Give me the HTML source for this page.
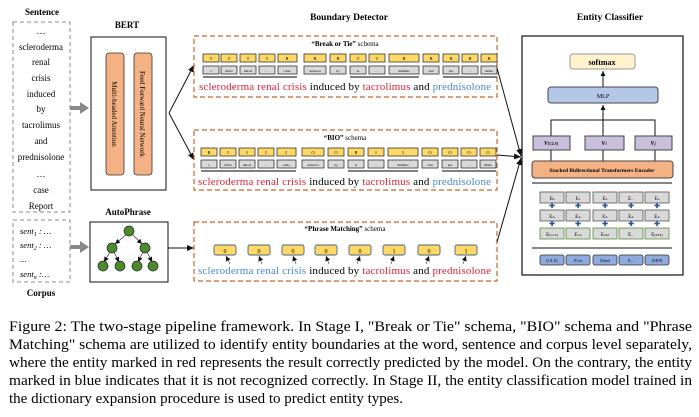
<!DOCTYPE html>
<html><head><meta charset="utf-8"><style>
body{margin:0;background:#fff;width:699px;height:412px;overflow:hidden}
svg text{font-family:"Liberation Serif",serif}
</style></head><body>
<svg width="699" height="412" viewBox="0 0 699 412" xmlns="http://www.w3.org/2000/svg">
<defs>
<marker id="ah" markerWidth="8" markerHeight="8" refX="7" refY="4" orient="auto" markerUnits="userSpaceOnUse"><path d="M0,1 L7,4 L0,7 z" fill="#111"/></marker>
<marker id="as" markerWidth="6" markerHeight="6" refX="5" refY="3" orient="auto" markerUnits="userSpaceOnUse"><path d="M0,0.5 L5,3 L0,5.5 z" fill="#111"/></marker>
</defs>
<text x="42" y="15" font-size="9" font-weight="bold" text-anchor="middle">Sentence</text>
<rect x="13" y="22" width="57" height="190" fill="none" stroke="#888" stroke-dasharray="4,3"/>
<g font-size="9" text-anchor="middle">
<text x="41" y="34">…</text><text x="41" y="50">scleroderma</text><text x="41" y="65">renal</text><text x="41" y="81">crisis</text><text x="41" y="97">induced</text><text x="41" y="112">by</text><text x="41" y="128">tacrolimus</text><text x="41" y="144">and</text><text x="41" y="160">prednisolone</text><text x="41" y="177">…</text><text x="41" y="193">case</text><text x="41" y="209">Report</text>
</g>
<rect x="13" y="220" width="57" height="62" fill="none" stroke="#888" stroke-dasharray="4,3"/>
<g font-size="8.5" font-style="italic"><text x="20" y="234">sent<tspan font-size="6" dy="2">1</tspan><tspan dy="-2"> : …</tspan></text><text x="20" y="248">sent<tspan font-size="6" dy="2">2</tspan><tspan dy="-2"> : …</tspan></text><text x="20" y="262" font-style="normal">...</text><text x="20" y="277">sent<tspan font-size="6" dy="2">n</tspan><tspan dy="-2"> :…</tspan></text></g>
<text x="41" y="296" font-size="9" font-weight="bold" text-anchor="middle">Corpus</text>
<path d="M70,106 h10 v-4 l9,6 l-9,6 v-4 h-10z" fill="#888"/>
<path d="M70,245 h10 v-4 l9,6 l-9,6 v-4 h-10z" fill="#888"/>
<text x="127" y="28" font-size="9" font-weight="bold" text-anchor="middle">BERT</text>
<rect x="91" y="37" width="75" height="153" fill="#fff" stroke="#111" stroke-width="1"/>
<rect x="106" y="53" width="18" height="122" rx="3" fill="#f4b183" stroke="#333" stroke-width="0.8"/>
<rect x="134" y="53" width="18" height="122" rx="3" fill="#f4b183" stroke="#333" stroke-width="0.8"/>
<text transform="translate(112,114) rotate(90)" font-size="7" text-anchor="middle">Multi-headed Attention</text>
<text transform="translate(140,114) rotate(90)" font-size="7" text-anchor="middle">Feed Forward Neural Network</text>
<line x1="169" y1="113" x2="194" y2="65" stroke="#111" marker-end="url(#ah)"/>
<line x1="169" y1="113" x2="194" y2="160" stroke="#111" marker-end="url(#ah)"/>
<text x="128" y="215" font-size="9" font-weight="bold" text-anchor="middle">AutoPhrase</text>
<rect x="90" y="222" width="78" height="60" fill="#fff" stroke="#111"/>
<g stroke="#333" stroke-width="0.7" marker-end="url(#as)">
<line x1="127" y1="234" x2="115" y2="244"/><line x1="132" y1="234" x2="142" y2="244"/>
<line x1="110" y1="252" x2="104" y2="262"/><line x1="114" y1="252" x2="119" y2="262"/>
<line x1="143" y1="252" x2="138" y2="262"/><line x1="147" y1="252" x2="152" y2="262"/>
</g>
<g fill="#4f8a2a" stroke="#223" stroke-width="0.7">
<circle cx="129" cy="231" r="5"/><circle cx="112" cy="248" r="5"/><circle cx="145" cy="248" r="5"/>
<circle cx="103" cy="266" r="5"/><circle cx="120" cy="266" r="5"/><circle cx="137" cy="266" r="5"/><circle cx="153" cy="266" r="5"/>
</g>
<line x1="168" y1="248" x2="194" y2="248" stroke="#111" marker-end="url(#ah)"/>
<text x="349" y="20" font-size="9.5" font-weight="bold" text-anchor="middle">Boundary Detector</text>
<g fill="none" stroke="#c5662a" stroke-width="1.2" stroke-dasharray="5,3">
<rect x="194" y="36" width="303" height="61"/><rect x="194" y="130" width="303" height="60"/><rect x="194" y="222" width="303" height="59"/>
</g>
<text x="345" y="46" font-size="7" text-anchor="middle"><tspan font-weight="bold">“Break or Tie”</tspan> schema</text>
<text x="345" y="140" font-size="7" text-anchor="middle"><tspan font-weight="bold">“BIO”</tspan> schema</text>
<text x="345" y="231" font-size="7" text-anchor="middle"><tspan font-weight="bold">“Phrase Matching”</tspan> schema</text>
<g stroke="#333" stroke-width="0.8">
<g fill="#ffd966">
<rect x="203" y="54" width="16" height="8"/><rect x="221" y="54" width="16" height="8"/><rect x="240" y="54" width="16" height="8"/><rect x="259" y="54" width="16" height="8"/><rect x="278" y="54" width="19" height="8"/><rect x="304" y="54" width="22" height="8"/><rect x="330" y="54" width="16" height="8"/><rect x="350" y="54" width="16" height="8"/><rect x="369" y="54" width="16" height="8"/><rect x="389" y="54" width="30" height="8"/><rect x="423" y="54" width="16" height="8"/><rect x="443" y="54" width="16" height="8"/><rect x="462" y="54" width="16" height="8"/><rect x="481" y="54" width="16" height="8"/>
<rect x="201" y="148" width="16" height="8"/><rect x="220" y="148" width="16" height="8"/><rect x="239" y="148" width="16" height="8"/><rect x="258" y="148" width="16" height="8"/><rect x="277" y="148" width="19" height="8"/><rect x="302" y="148" width="22" height="8"/><rect x="328" y="148" width="16" height="8"/><rect x="348" y="148" width="16" height="8"/><rect x="368" y="148" width="16" height="8"/><rect x="388" y="148" width="30" height="8"/><rect x="422" y="148" width="16" height="8"/><rect x="442" y="148" width="16" height="8"/><rect x="461" y="148" width="16" height="8"/><rect x="480" y="148" width="16" height="8"/>
</g>
<g fill="#d9d9d9">
<rect x="203" y="66" width="16" height="8"/><rect x="221" y="66" width="16" height="8"/><rect x="240" y="66" width="16" height="8"/><rect x="259" y="66" width="16" height="8"/><rect x="278" y="66" width="19" height="8"/><rect x="304" y="66" width="22" height="8"/><rect x="330" y="66" width="16" height="8"/><rect x="350" y="66" width="16" height="8"/><rect x="369" y="66" width="16" height="8"/><rect x="389" y="66" width="30" height="8"/><rect x="423" y="66" width="16" height="8"/><rect x="443" y="66" width="16" height="8"/><rect x="462" y="66" width="16" height="8"/><rect x="481" y="66" width="16" height="8"/>
<rect x="201" y="160" width="16" height="8"/><rect x="220" y="160" width="16" height="8"/><rect x="239" y="160" width="16" height="8"/><rect x="258" y="160" width="16" height="8"/><rect x="277" y="160" width="19" height="8"/><rect x="302" y="160" width="22" height="8"/><rect x="328" y="160" width="16" height="8"/><rect x="348" y="160" width="16" height="8"/><rect x="368" y="160" width="16" height="8"/><rect x="388" y="160" width="30" height="8"/><rect x="422" y="160" width="16" height="8"/><rect x="442" y="160" width="16" height="8"/><rect x="461" y="160" width="16" height="8"/><rect x="480" y="160" width="16" height="8"/>
</g>
</g>
<g font-size="4.5" text-anchor="middle">
<text x="211" y="60">T</text><text x="229" y="60">T</text><text x="248" y="60">T</text><text x="267" y="60">T</text><text x="287" y="60">B</text><text x="315" y="60">B</text><text x="338" y="60">B</text><text x="358" y="60">T</text><text x="377" y="60">T</text><text x="404" y="60">B</text><text x="431" y="60">B</text><text x="451" y="60">B</text><text x="470" y="60">B</text><text x="489" y="60">B</text>
<text x="209" y="154">B</text><text x="228" y="154">I</text><text x="247" y="154">I</text><text x="266" y="154">I</text><text x="286" y="154">I</text><text x="313" y="154">O</text><text x="336" y="154">O</text><text x="356" y="154">B</text><text x="376" y="154">I</text><text x="403" y="154">I</text><text x="430" y="154">O</text><text x="450" y="154">O</text><text x="469" y="154">O</text><text x="488" y="154">O</text>
</g>
<g font-size="3.5" text-anchor="middle">
<text x="211" y="72">s</text><text x="229" y="72">##cle</text><text x="248" y="72">##rod</text><text x="267" y="72">…</text><text x="287" y="72">crisis</text><text x="315" y="72">induced</text><text x="338" y="72">by</text><text x="358" y="72">ta</text><text x="377" y="72">…</text><text x="404" y="72">##limus</text><text x="431" y="72">and</text><text x="451" y="72">pre</text><text x="470" y="72">…</text><text x="489" y="72">##lne</text>
<text x="209" y="166">s</text><text x="228" y="166">##cle</text><text x="247" y="166">##rod</text><text x="266" y="166">…</text><text x="286" y="166">crisis</text><text x="313" y="166">induced</text><text x="336" y="166">by</text><text x="356" y="166">ta</text><text x="376" y="166">…</text><text x="403" y="166">##limus</text><text x="430" y="166">and</text><text x="450" y="166">pre</text><text x="469" y="166">…</text><text x="488" y="166">##lne</text>
</g>
<g stroke="#333" stroke-width="1.2"><line x1="203" y1="77" x2="297" y2="77"/><line x1="350" y1="77" x2="419" y2="77"/><line x1="443" y1="77" x2="497" y2="77"/>
<line x1="201" y1="171" x2="296" y2="171"/><line x1="348" y1="171" x2="418" y2="171"/><line x1="442" y1="171" x2="496" y2="171"/></g>
<g font-size="11">
<text x="199" y="90" textLength="292"><tspan fill="#d6253a">scleroderma renal crisis</tspan> induced by <tspan fill="#d6253a">tacrolimus</tspan> and <tspan fill="#4a86c8">prednisolone</tspan></text>
<text x="198" y="185" textLength="293"><tspan fill="#d6253a">scleroderma renal crisis</tspan> induced by <tspan fill="#d6253a">tacrolimus</tspan> and <tspan fill="#4a86c8">prednisolone</tspan></text>
<text x="198" y="274" textLength="293"><tspan fill="#4a86c8">scleroderma renal crisis</tspan> induced by <tspan fill="#d6253a">tacrolimus</tspan> and <tspan fill="#d6253a">prednisolone</tspan></text>
</g>
<g fill="#ffd966" stroke="#4a5f80" stroke-width="0.9">
<rect x="214" y="245" width="22" height="10" rx="2"/><rect x="248" y="245" width="22" height="10" rx="2"/><rect x="282" y="245" width="22" height="10" rx="2"/><rect x="315" y="245" width="22" height="10" rx="2"/><rect x="349" y="245" width="22" height="10" rx="2"/><rect x="383" y="245" width="22" height="10" rx="2"/><rect x="418" y="245" width="22" height="10" rx="2"/><rect x="455" y="245" width="22" height="10" rx="2"/>
</g>
<g font-size="6" text-anchor="middle"><text x="225" y="253">0</text><text x="259" y="253">0</text><text x="293" y="253">0</text><text x="326" y="253">0</text><text x="360" y="253">0</text><text x="394" y="253">1</text><text x="429" y="253">0</text><text x="466" y="253">1</text></g>
<g stroke="#333" stroke-width="0.6" marker-end="url(#as)">
<line x1="230" y1="264" x2="226" y2="256"/><line x1="262" y1="264" x2="259" y2="256"/><line x1="296" y1="264" x2="293" y2="256"/><line x1="329" y1="264" x2="326" y2="256"/><line x1="357" y1="264" x2="360" y2="256"/><line x1="391" y1="264" x2="394" y2="256"/><line x1="426" y1="264" x2="429" y2="256"/><line x1="463" y1="264" x2="466" y2="256"/>
</g>
<g stroke="#111" stroke-width="1"><line x1="497" y1="68" x2="521" y2="156" marker-end="url(#ah)"/><line x1="497" y1="155" x2="521" y2="157" marker-end="url(#ah)"/><line x1="497" y1="242" x2="521" y2="158" marker-end="url(#ah)"/></g>
<text x="610" y="20" font-size="9.5" font-weight="bold" text-anchor="middle">Entity Classifier</text>
<rect x="522" y="36" width="161" height="239" fill="#fff" stroke="#111" stroke-width="1.2"/>
<rect x="570" y="54" width="65" height="15" rx="3" fill="#fff2cc" stroke="#999"/>
<text x="602" y="65" font-size="8" font-weight="bold" text-anchor="middle">softmax</text>
<rect x="548" y="87" width="110" height="16" rx="3" fill="#b4c7e7" stroke="#445"/>
<text x="603" y="98" font-size="6" text-anchor="middle">MLP</text>
<g stroke="#111" fill="none"><line x1="603" y1="87" x2="603" y2="71" marker-end="url(#as)"/><line x1="603" y1="120" x2="603" y2="105" marker-end="url(#as)"/>
<polyline points="551,136 551,120 655,120 655,136"/><line x1="603" y1="120" x2="603" y2="136"/>
<line x1="551" y1="150" x2="551" y2="161"/><line x1="603" y1="150" x2="603" y2="161"/><line x1="655" y1="150" x2="655" y2="161"/></g>
<g fill="#c9bedb" stroke="#444"><rect x="533" y="136" width="37" height="14"/><rect x="585" y="136" width="39" height="14"/><rect x="635" y="136" width="37" height="14"/></g>
<g font-size="6" font-style="italic" font-weight="bold" text-anchor="middle"><text x="551" y="145">V<tspan font-size="4">[CLS]</tspan></text><text x="604" y="145">V<tspan font-size="4">i</tspan></text><text x="653" y="145">V<tspan font-size="4">j</tspan></text></g>
<rect x="532" y="161" width="141" height="17" rx="3" fill="#f4b183" stroke="#444"/>
<text x="602" y="172" font-size="5.5" font-weight="bold" text-anchor="middle">Stacked Bidirectional Transformers Encoder</text>
<line x1="532" y1="183" x2="672" y2="183" stroke="#111"/>
<line x1="532" y1="248" x2="672" y2="248" stroke="#111"/>
<g stroke="#555" stroke-width="0.8" fill="#d9d9d9">
<rect x="540" y="192" width="24" height="11"/><rect x="566" y="192" width="24" height="11"/><rect x="593" y="192" width="24" height="11"/><rect x="619" y="192" width="24" height="11"/><rect x="645" y="192" width="24" height="11"/>
<rect x="540" y="210" width="24" height="11"/><rect x="566" y="210" width="24" height="11"/><rect x="593" y="210" width="24" height="11"/><rect x="619" y="210" width="24" height="11"/><rect x="645" y="210" width="24" height="11"/>
<g stroke="#5a8a3a"><rect x="540" y="228" width="24" height="11"/><rect x="566" y="228" width="24" height="11"/><rect x="593" y="228" width="24" height="11"/><rect x="619" y="228" width="24" height="11"/><rect x="645" y="228" width="24" height="11"/></g>
</g>
<g fill="#2f5597" font-size="7" text-anchor="middle" font-weight="bold"><text x="552" y="208">✚</text><text x="578" y="208">✚</text><text x="605" y="208">✚</text><text x="631" y="208">✚</text><text x="657" y="208">✚</text>
<text x="552" y="226">✚</text><text x="578" y="226">✚</text><text x="605" y="226">✚</text><text x="631" y="226">✚</text><text x="657" y="226">✚</text></g>
<g font-size="5" text-anchor="middle"><text x="552" y="200">E<tspan font-size="3.5">0</tspan></text><text x="578" y="200">E<tspan font-size="3.5">1</tspan></text><text x="605" y="200">E<tspan font-size="3.5">2</tspan></text><text x="631" y="200">E<tspan font-size="3.5">...</tspan></text><text x="657" y="200">E<tspan font-size="3.5">n</tspan></text>
<text x="552" y="218">E<tspan font-size="3.5">A</tspan></text><text x="578" y="218">E<tspan font-size="3.5">A</tspan></text><text x="605" y="218">E<tspan font-size="3.5">A</tspan></text><text x="631" y="218">E<tspan font-size="3.5">A</tspan></text><text x="657" y="218">E<tspan font-size="3.5">A</tspan></text>
<text x="552" y="236">E<tspan font-size="3.5">[CLS]</tspan></text><text x="578" y="236">E<tspan font-size="3.5">1st</tspan></text><text x="605" y="236">E<tspan font-size="3.5">2nd</tspan></text><text x="631" y="236">E<tspan font-size="3.5">...</tspan></text><text x="657" y="236">E<tspan font-size="3.5">[SEP]</tspan></text></g>
<g fill="#8faadc" stroke="#333" stroke-width="0.8"><rect x="540" y="255" width="24" height="10" rx="2"/><rect x="566" y="255" width="24" height="10" rx="2"/><rect x="593" y="255" width="24" height="10" rx="2"/><rect x="619" y="255" width="24" height="10" rx="2"/><rect x="645" y="255" width="24" height="10" rx="2"/></g>
<g font-size="4.5" text-anchor="middle"><text x="552" y="262">[CLS]</text><text x="578" y="262">E1st</text><text x="605" y="262">E2nd</text><text x="631" y="262">E...</text><text x="657" y="262">[SEP]</text></g>
<g font-size="14.5">
<text x="9" y="331" textLength="683" lengthAdjust="spacingAndGlyphs">Figure 2: The two-stage pipeline framework. In Stage I, "Break or Tie" schema, "BIO" schema and "Phrase</text>
<text x="9" y="349" textLength="683" lengthAdjust="spacingAndGlyphs">Matching" schema are utilized to identify entity boundaries at the word, sentence and corpus level separately,</text>
<text x="9" y="367" textLength="683" lengthAdjust="spacingAndGlyphs">where the entity marked in red represents the result correctly predicted by the model. On the contrary, the entity</text>
<text x="9" y="385" textLength="683" lengthAdjust="spacingAndGlyphs">marked in blue indicates that it is not recognized correctly. In Stage II, the entity classification model trained in</text>
<text x="9" y="403" textLength="394" lengthAdjust="spacingAndGlyphs">the dictionary expansion procedure is used to predict entity types.</text>
</g>
</svg>
</body></html>
